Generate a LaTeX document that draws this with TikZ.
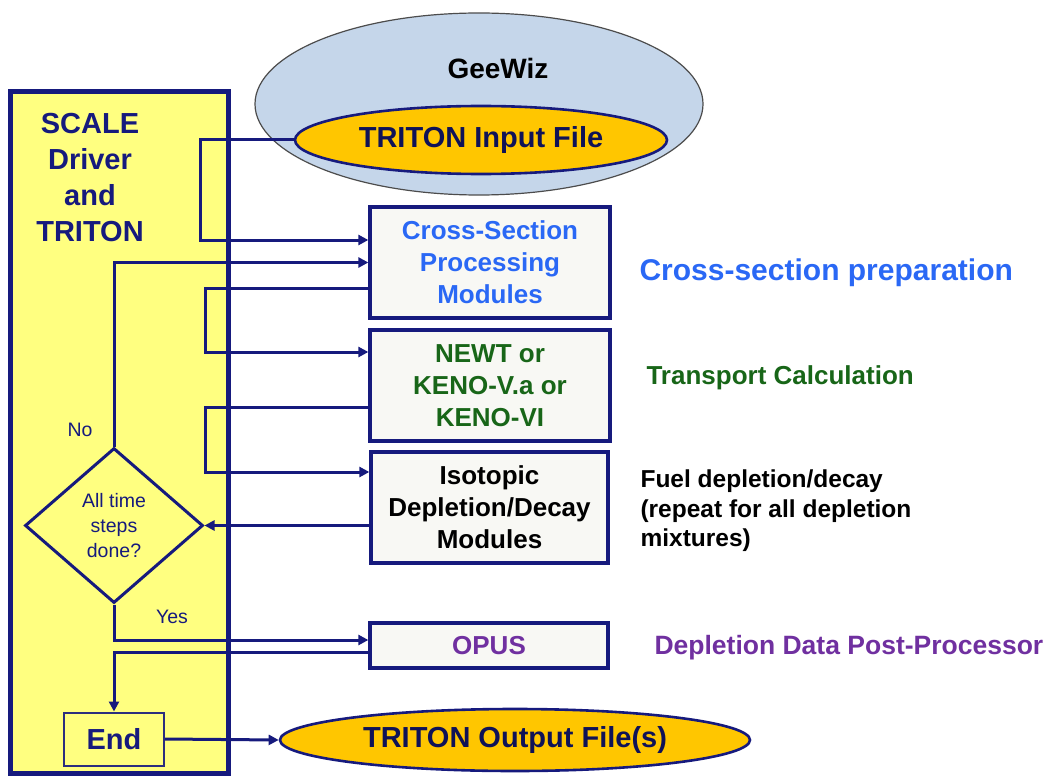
\documentclass[tikz,border=0pt]{standalone}
\usepackage{fontspec}
\setmainfont{Liberation Sans}
\usetikzlibrary{shapes.geometric,arrows.meta}
\definecolor{navy}{RGB}{22,26,125}
\definecolor{drvyellow}{RGB}{255,255,128}
\definecolor{boxgray}{RGB}{248,248,244}
\definecolor{geeblue}{RGB}{197,214,234}
\definecolor{fileorange}{RGB}{255,198,0}
\definecolor{xsblue}{RGB}{42,104,245}
\definecolor{tgreen}{RGB}{24,102,24}
\definecolor{opurple}{RGB}{112,48,160}
\begin{document}
\begin{tikzpicture}[x=1pt, y=-1pt,
    link/.style={draw=navy, line width=3pt, -{Triangle[length=10pt,width=10pt]}},
    modbox/.style={draw=navy, line width=3.3pt, fill=boxgray, minimum width=240pt,
      inner sep=0pt, align=center, font=\bfseries\fontsize{26}{32}\selectfont},
    filebox/.style={ellipse, draw=navy, line width=2.6pt, fill=fileorange, inner sep=0pt,
      text=navy!70!black, font=\bfseries\fontsize{29}{34}\selectfont},
    note/.style={anchor=west, align=left, font=\bfseries\fontsize{26}{30}\selectfont}]
  \useasboundingbox (0,0) rectangle (1049,778);
  % driver column
  \node[draw=navy, line width=5pt, fill=drvyellow, minimum width=218pt, minimum height=681pt] (drv) at (119,432.5) {};
  \node[align=center, text=navy, font=\bfseries\fontsize{29}{36}\selectfont] (drvtxt) at (90,178) {SCALE\\Driver\\and\\TRITON};
  % GeeWiz
  \node[ellipse, draw=black!70, line width=1.2pt, fill=geeblue, minimum width=448pt, minimum height=182pt] (gee) at (479,104) {};
  \node[font=\bfseries\fontsize{28}{32}\selectfont] (geetxt) at (498,68) {GeeWiz};
  \node[filebox, minimum width=372pt, minimum height=68pt] (inp) at (481,140) {TRITON Input File};
  % modules
  \node[modbox, minimum height=111pt, text=xsblue] (xs) at (490,262.5) {Cross-Section\\Processing\\Modules};
  \node[modbox, minimum height=111pt, text=tgreen] (newt) at (490,385.5) {NEWT or\\KENO-V.a or\\KENO-VI};
  \node[modbox, minimum height=111pt, minimum width=237pt, text=black] (iso) at (489.5,507.5) {Isotopic\\Depletion/Decay\\Modules};
  \node[modbox, minimum height=45pt, minimum width=238pt, text=opurple] (opus) at (489,645.5) {OPUS};
  % decision and end
  \node[diamond, draw=navy, line width=3pt, fill=drvyellow, minimum width=178pt, minimum height=155pt] (done) at (114,525.5) {};
  \node[align=center, text=navy, font=\fontsize{19.5}{25}\selectfont] (donetxt) at (done) {All time\\steps\\done?};
  \node[text=navy, font=\fontsize{19.5}{22}\selectfont] (no) at (80,430) {No};
  \node[text=navy, font=\fontsize{19.5}{22}\selectfont] (yes) at (172,617) {Yes};
  \node[draw=navy!80!gray, line width=2pt, fill=drvyellow, minimum width=100pt, minimum height=53pt, text=navy,
    font=\bfseries\fontsize{29}{34}\selectfont] (fin) at (114,739) {End};
  \node[filebox, minimum width=470pt, minimum height=62pt] (out) at (515,740) {TRITON Output File(s)};
  % side notes
  \node[note, text=xsblue, font=\bfseries\fontsize{30}{34}\selectfont] (n1) at (636,273) {Cross-section preparation};
  \node[note, text=tgreen] (n2) at (643,378) {Transport Calculation};
  \node[note, text=black, font=\bfseries\fontsize{24.5}{29.5}\selectfont] (n3) at (637,511) {Fuel depletion/decay\\(repeat for all depletion\\mixtures)};
  \node[note, text=opurple, font=\bfseries\fontsize{26.5}{30}\selectfont] (n4) at (651,648) {Depletion Data Post-Processor};
  % connectors
  \coordinate (c1) at (200,240);
  \draw[link] (inp.west) -| (c1) -- (c1 -| xs.west);
  \draw[link] (done.north) |- (xs.west);
  \coordinate (c2) at (205,288);
  \coordinate (c3) at (205,352);
  \draw[link] (c2 -| xs.west) -- (c2) -- (c3) -- (c3 -| newt.west);
  \coordinate (c4) at (205,407);
  \coordinate (c5) at (205,472);
  \draw[link] (c4 -| newt.west) -- (c4) -- (c5) -- (c5 -| iso.west);
  \draw[link] (done.east -| iso.west) -- (done.east);
  \coordinate (c6) at (114,640);
  \draw[link] (done.south) -- (c6) -- (c6 -| opus.west);
  \coordinate (c7) at (114,652);
  \draw[link] (c7 -| opus.west) -- (c7) -- (fin.north);
  \draw[link] (fin.east) -- (out.west);
\end{tikzpicture}
\end{document}
